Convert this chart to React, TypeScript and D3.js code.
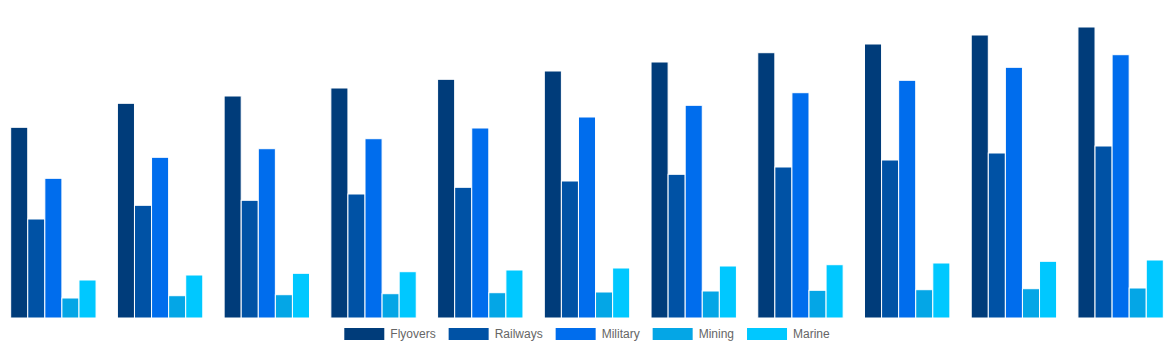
import React, { useEffect, useRef } from "react";
import * as d3 from "d3";

const categories = ["1", "2", "3", "4", "5", "6", "7", "8", "9", "10", "11"];
const seriesNames = ["Flyovers", "Railways", "Military", "Mining", "Marine"];
const seriesColors = ["#003c7a", "#0052a5", "#006ded", "#04a6e6", "#00c8ff"];

const flyovers = [190.7, 214.7, 222, 230, 238.7, 247, 256, 265.3, 274, 283, 291];
const railways = [99, 112.7, 117.7, 124, 130.7, 137, 143.7, 151, 158, 165, 172];
const military = [139.7, 160.7, 169.3, 179.3, 190, 201, 212.7, 225.3, 237.7, 250.7, 263.3];
const mining = [20, 22.3, 23.3, 24.3, 25.3, 26, 27, 27.7, 28.3, 29.3, 30];
const marine = [38, 43, 44.7, 46.3, 48, 50, 52, 53.3, 55, 56.7, 58];

const seriesValues = [flyovers, railways, military, mining, marine];

const W = 1174;
const H = 350;
const baseY = 318;

export default function App() {
  const ref = useRef<SVGSVGElement | null>(null);

  useEffect(() => {
    const svg = d3.select(ref.current);
    svg.selectAll("*").remove();

    const x0 = d3.scaleBand<string>().domain(categories).range([0, W]).paddingInner(0.2).paddingOuter(0.1);
    const x1 = d3.scaleBand<string>().domain(seriesNames).range([0, x0.bandwidth()]).padding(0);
    const y = d3.scaleLinear().domain([0, 300]).range([baseY, baseY - 300]);

    const data = categories.flatMap((c, i) =>
      seriesNames.map((s, j) => ({ c, s, v: seriesValues[j][i], color: seriesColors[j] }))
    );

    svg
      .append("g")
      .selectAll("rect")
      .data(data)
      .join("rect")
      .attr("x", (d) => (x0(d.c) as number) + (x1(d.s) as number))
      .attr("y", (d) => y(d.v))
      .attr("width", x1.bandwidth())
      .attr("height", (d) => y(0) - y(d.v))
      .attr("fill", (d) => d.color)
      .attr("stroke", "#ffffff")
      .attr("stroke-width", 1);

    // legend
    const lg = svg.append("g");
    const symW = 40;
    const symH = 12;
    const gap = 6;
    const spacing = 13;
    const items = seriesNames.map((name, j) => {
      const g = lg.append("g");
      g.append("rect")
        .attr("x", 0)
        .attr("y", 328)
        .attr("width", symW)
        .attr("height", symH)
        .attr("fill", seriesColors[j]);
      const t = g
        .append("text")
        .attr("x", symW + gap)
        .attr("y", 338)
        .attr("font-family", "'Liberation Sans', Arial, sans-serif")
        .attr("font-size", 12)
        .attr("fill", "#666666")
        .text(name);
      const tw = (t.node() as SVGTextElement).getComputedTextLength();
      return { g, w: symW + gap + tw };
    });
    const total = d3.sum(items, (d) => d.w) + spacing * (items.length - 1);
    let cx = (W - total) / 2;
    items.forEach((it) => {
      it.g.attr("transform", `translate(${cx},0)`);
      cx += it.w + spacing;
    });
  }, []);

  return (
    <svg
      ref={ref}
      width={W}
      height={H}
      style={{ position: "absolute", left: 0, top: 0, display: "block" }}
    />
  );
}
